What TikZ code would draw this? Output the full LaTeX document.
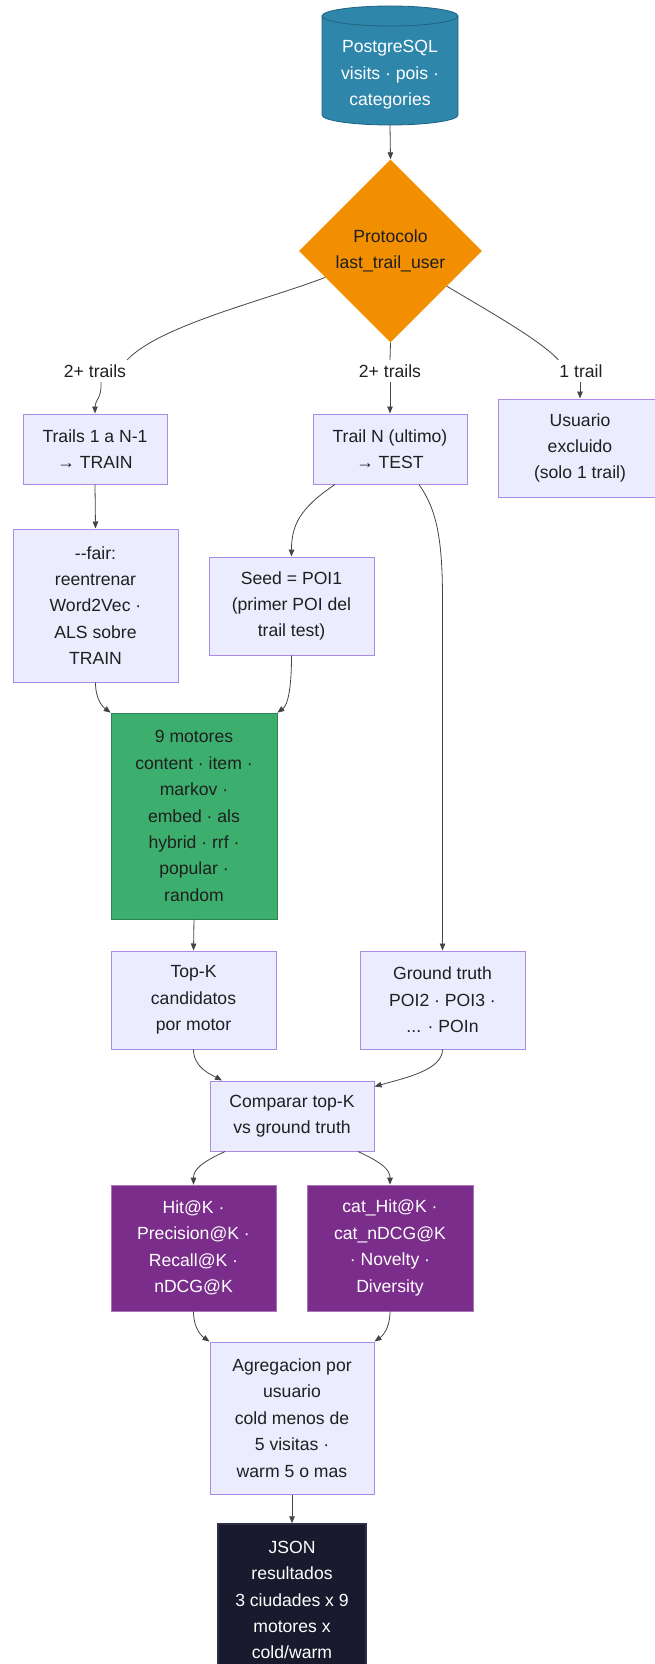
\documentclass[tikz,border=0pt]{standalone}
\usepackage{fontspec}
\setmainfont{Liberation Sans}
\usetikzlibrary{shapes.geometric,arrows.meta}

\definecolor{dbblue}{HTML}{2E86AB}
\definecolor{dbedge}{HTML}{1F6482}
\definecolor{decorange}{HTML}{F18F01}
\definecolor{enggreen}{HTML}{3CAF6E}
\definecolor{metpurple}{HTML}{7B2D8B}
\definecolor{outnavy}{HTML}{1A1A2E}
\definecolor{outedge}{HTML}{2E2E48}
\definecolor{boxfill}{HTML}{ECECFF}
\definecolor{boxline}{HTML}{A98BE6}
\definecolor{wire}{HTML}{444444}
\definecolor{ink}{HTML}{1F1F1F}

\begin{document}
\begin{tikzpicture}[x=1pt,y=-1pt,
  every node/.style={font=\fontsize{17.6}{26.4}\selectfont, text=ink},
  procbox/.style={draw=boxline, line width=1pt, fill=boxfill, align=center, inner sep=0pt},
  enginebox/.style={draw=enggreen!75!black, line width=0.6pt, fill=enggreen, align=center, inner sep=0pt},
  metricbox/.style={draw=metpurple!65!white, line width=0.6pt, fill=metpurple, text=white, align=center, inner sep=0pt},
  outbox/.style={draw=outedge, line width=1.5pt, fill=outnavy, text=white, align=center, inner sep=0pt},
  edgelabel/.style={inner sep=1pt, minimum height=22pt},
  wireline/.style={draw=wire, line width=0.8pt},
  conn/.style={wireline, -{Triangle[length=7pt,width=5.5pt]}}
]
\useasboundingbox (0,0) rectangle (654,1664);

% database cylinder
\fill[dbblue] (322,16) -- (322,115) arc[start angle=180,end angle=0,x radius=68,y radius=10] -- (458,16) -- cycle;
\draw[dbedge, line width=0.8pt] (322,16) -- (322,115) arc[start angle=180,end angle=0,x radius=68,y radius=10] -- (458,16);
\filldraw[fill=dbblue, draw=dbedge, line width=0.8pt] (390,16) ellipse[x radius=68, y radius=10];
\node[text=white, align=center, inner sep=0pt, minimum width=136pt, minimum height=100pt] (db) at (390,75)
  {PostgreSQL\\visits · pois ·\\categories};

% split decision
\node[diamond, fill=decorange, minimum width=183pt, minimum height=183pt, inner sep=0pt, align=center] (dec) at (390.5,251)
  {Protocolo\\last\_trail\_user};

% edge labels
\node[edgelabel] (l1) at (95,371) {2+ trails};
\node[edgelabel] (l2) at (390,371) {2+ trails};
\node[edgelabel] (l3) at (581,371) {1 trail};

% process boxes
\node[procbox, minimum width=144pt, minimum height=70pt] (train) at (95,449) {Trails 1 a N-1\\→ TRAIN};
\node[procbox, minimum width=154pt, minimum height=70pt] (test) at (390,449) {Trail N (ultimo)\\→ TEST};
\node[procbox, minimum width=164pt, minimum height=98pt] (excl) at (580,448) {Usuario\\excluido\\(solo 1 trail)};
\node[procbox, minimum width=165pt, minimum height=153pt] (fair) at (95.5,605.5)
  {-\kern0pt-fair:\\reentrenar\\Word2Vec ·\\ALS sobre\\TRAIN};
\node[procbox, minimum width=165pt, minimum height=98pt] (seed) at (291.5,606)
  {Seed = POI1\\(primer POI del\\trail test)};
\node[enginebox, minimum width=166pt, minimum height=206pt] (motores) at (194,816)
  {9 motores\\content · item ·\\markov ·\\embed · als\\hybrid · rrf ·\\popular ·\\random};
\node[procbox, minimum width=165pt, minimum height=98pt] (topk) at (193.5,1000)
  {Top-K\\candidatos\\por motor};
\node[procbox, minimum width=165pt, minimum height=98pt] (gt) at (442.5,1000)
  {Ground truth\\POI2 · POI3 ·\\... · POIn};
\node[procbox, minimum width=164pt, minimum height=70pt] (comp) at (292,1116)
  {Comparar top-K\\vs ground truth};
\node[metricbox, minimum width=165pt, minimum height=126pt] (hit) at (193.5,1248)
  {Hit@K ·\\Precision@K ·\\Recall@K ·\\nDCG@K};
\node[metricbox, minimum width=166pt, minimum height=126pt] (cat) at (390,1248)
  {cat\_Hit@K ·\\cat\_nDCG@K\\· Novelty ·\\Diversity};
\node[procbox, minimum width=164pt, minimum height=152pt] (agreg) at (292,1418)
  {Agregacion por\\usuario\\cold menos de\\5 visitas ·\\warm 5 o mas};
\node[outbox, minimum width=148pt, minimum height=152pt] (json) at (292,1600)
  {JSON\\resultados\\3 ciudades x 9\\motores x\\cold/warm};

% connectors
\draw[conn] (db.south) -- (dec.north);

\draw[wireline] (dec.202) .. controls (270,299) and (160,325) .. (l1.north east);
\draw[conn] ([xshift=6pt]l1.south) .. controls (102,398) and (95,400) .. (train.north);

\draw[wireline] (dec.south) -- (l2.north);
\draw[conn] (l2.south) -- (test.north);

\draw[wireline] (dec.-32) .. controls (490,312) and (540,340) .. (l3.north west);
\draw[conn] ([xshift=-1pt]l3.south) -- (excl.north);

\draw[conn] (train.south) -- (fair.north);
\draw[conn] ([xshift=-55pt]test.south) .. controls (300,508) and (291.5,525) .. (seed.north);
\draw[conn] ([xshift=29pt]test.south) .. controls (437,510) and (442.5,540) .. (442.5,600) -- (gt.north);

\draw[conn] (fair.south) .. controls (95.5,700) and (103,707) .. (motores.north west);
\draw[conn] (seed.south) .. controls (291.5,700) and (285,707) .. (motores.north east);
\draw[conn] (motores.south) -- (topk.north);

\draw[conn] (topk.south) .. controls (193.5,1068) and (212,1075) .. ([xshift=-70pt]comp.north);
\draw[conn] (gt.south) .. controls (442.5,1070) and (405,1078) .. ([yshift=-6pt]comp.north east);

\draw[conn] ([xshift=-67pt]comp.south) .. controls (200,1163) and (193.5,1170) .. (hit.north);
\draw[conn] ([xshift=66pt]comp.south) .. controls (383,1163) and (390,1170) .. (cat.north);

\draw[conn] (hit.south) .. controls (193.5,1330) and (203,1337) .. (agreg.north west);
\draw[conn] (cat.south) .. controls (390,1330) and (381,1337) .. (agreg.north east);
\draw[conn] (agreg.south) -- (json.north);
\end{tikzpicture}
\end{document}
